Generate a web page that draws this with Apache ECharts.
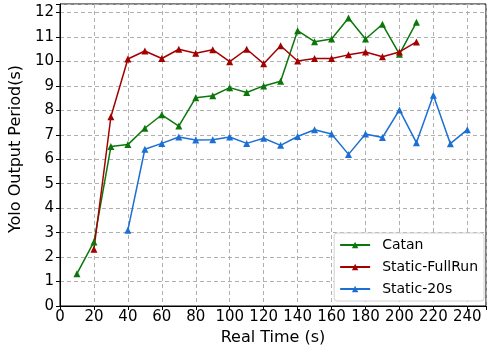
<!DOCTYPE html>
<html>
<head>
<meta charset="utf-8">
<script src="https://cdn.jsdelivr.net/npm/echarts@6/dist/echarts.min.js"></script>
<style>
  html, body { margin: 0; padding: 0; background: #fff; }
  #main { width: 489px; height: 351px; }
</style>
</head>
<body>
<div id="main"></div>
<script>
// real time (s) for each series
const catanTime = [10, 20, 30, 40, 50, 60, 70, 80, 90, 100, 110, 120, 130, 140, 150, 160, 170, 180, 190, 200, 210]
const catanPeriod = [1.32, 2.62, 6.52, 6.6, 7.27, 7.82, 7.36, 8.52, 8.6, 8.93, 8.73, 9.0, 9.19, 11.26, 10.81, 10.92, 11.78, 10.92, 11.52, 10.3, 11.6]

const fullRunTime = [20, 30, 40, 50, 60, 70, 80, 90, 100, 110, 120, 130, 140, 150, 160, 170, 180, 190, 200, 210]
const fullRunPeriod = [2.32, 7.74, 10.1, 10.43, 10.12, 10.5, 10.34, 10.48, 9.99, 10.5, 9.91, 10.64, 10.02, 10.12, 10.12, 10.27, 10.39, 10.19, 10.39, 10.8]

const s20Time = [40, 50, 60, 70, 80, 90, 100, 110, 120, 130, 140, 150, 160, 170, 180, 190, 200, 210, 220, 230, 240]
const s20Period = [3.1, 6.41, 6.65, 6.91, 6.79, 6.8, 6.91, 6.65, 6.86, 6.57, 6.93, 7.21, 7.03, 6.2, 7.03, 6.89, 8.02, 6.68, 8.62, 6.64, 7.21]

const seriesNames = ['Catan', 'Static-FullRun', 'Static-20s']
const seriesColors = ['#0b770b', '#a30000', '#1c6fd3']

function pairs(xs, ys) {
  return xs.map((x, i) => [x, ys[i]])
}

const chart = echarts.init(document.getElementById('main'), null, { renderer: 'canvas' })

const font = 'DejaVu Sans'
const gridLine = { show: true, lineStyle: { color: '#b0b0b0', type: [4, 3], width: 1 } }

function makeSeries(name, color, data) {
  return {
    name: name,
    type: 'line',
    data: data,
    symbol: 'triangle',
    symbolSize: 7,
    showSymbol: true,
    lineStyle: { color: color, width: 1.5 },
    itemStyle: { color: color },
    animation: false
  }
}

let option = {
  backgroundColor: '#ffffff',
  animation: false,
  grid: {
    left: 55, right: -3, top: 4, bottom: 43,
    show: true, borderColor: '#000', borderWidth: 1
  },
  legend: {
    orient: 'vertical',
    right: 5,
    bottom: 50,
    itemWidth: 30,
    itemHeight: 8,
    itemGap: 8,
    padding: [5, 6, 5, 5],
    backgroundColor: '#fff',
    borderColor: '#d0d0d0',
    borderWidth: 1,
    borderRadius: 3,
    textStyle: { fontFamily: font, fontSize: 14, color: '#000', padding: [0, 0, 0, 7] },
    data: seriesNames
  },
  xAxis: {
    type: 'value',
    min: 0,
    max: 251,
    interval: 20,
    name: 'Real Time (s)',
    nameLocation: 'middle',
    nameGap: 24,
    nameTextStyle: { fontFamily: font, fontSize: 16, color: '#000' },
    axisLine: { show: true, lineStyle: { color: '#000', width: 1 } },
    axisTick: { show: true, length: 4, lineStyle: { color: '#000' } },
    axisLabel: { fontFamily: font, fontSize: 15, color: '#000', margin: 4,
      formatter: v => (v % 20 === 0 ? String(v) : '') },
    splitLine: gridLine
  },
  yAxis: {
    type: 'value',
    min: 0,
    max: 12.35,
    interval: 1,
    name: 'Yolo Output Period(s)',
    nameLocation: 'middle',
    nameGap: 34,
    nameTextStyle: { fontFamily: font, fontSize: 16, color: '#000', padding: [0, 0, 0, 12] },
    axisLine: { show: true, lineStyle: { color: '#000', width: 1 } },
    axisTick: { show: true, length: 4, lineStyle: { color: '#000' } },
    axisLabel: { fontFamily: font, fontSize: 15, color: '#000', margin: 6,
      formatter: v => (Number.isInteger(v) ? String(v) : '') },
    splitLine: gridLine
  },
  series: [
    makeSeries(seriesNames[0], seriesColors[0], pairs(catanTime, catanPeriod)),
    makeSeries(seriesNames[1], seriesColors[1], pairs(fullRunTime, fullRunPeriod)),
    makeSeries(seriesNames[2], seriesColors[2], pairs(s20Time, s20Period))
  ]
}

chart.setOption(option)
</script>
</body>
</html>
